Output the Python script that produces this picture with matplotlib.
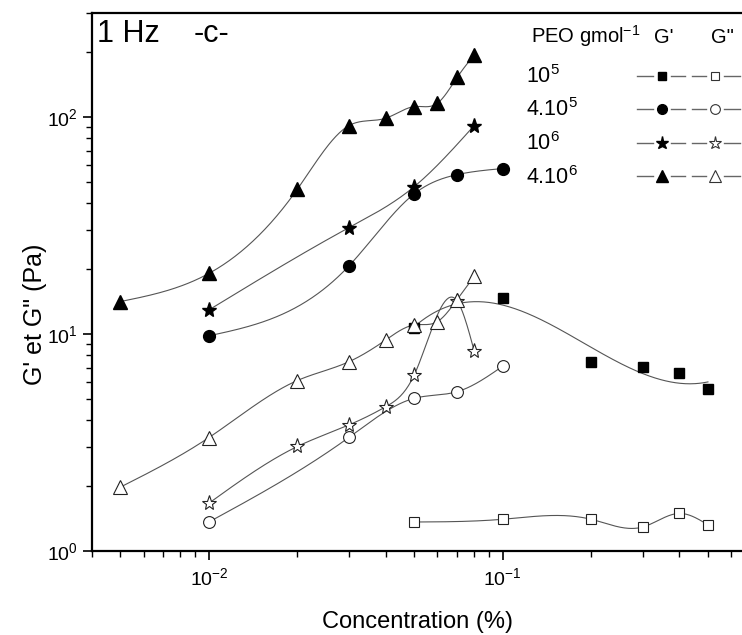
import numpy as np
import matplotlib.pyplot as plt

plt.rcParams['font.family'] = 'Liberation Sans'
plt.rcParams['mathtext.fontset'] = 'custom'
plt.rcParams['mathtext.rm'] = 'Liberation Sans'
plt.rcParams['mathtext.it'] = 'Liberation Sans:italic'
plt.rcParams['mathtext.bf'] = 'Liberation Sans:bold'

# PEO 10^5
conc_1e5 = [0.05, 0.1, 0.2, 0.3, 0.4, 0.5]
g1_1e5 = [10.6, 14.7, 7.4, 7.05, 6.6, 5.55]
g2_1e5 = [1.36, 1.40, 1.40, 1.29, 1.49, 1.32]

# PEO 4.10^5
conc_4e5 = [0.01, 0.03, 0.05, 0.07, 0.1]
g1_4e5 = [9.8, 20.6, 44.2, 54.2, 57.8]
g2_4e5 = [1.36, 3.34, 5.05, 5.42, 7.1]

# PEO 10^6
conc_1e6_g1 = [0.01, 0.03, 0.05, 0.08]
g1_1e6 = [12.9, 30.9, 47.7, 91.2]
conc_1e6_g2 = [0.01, 0.02, 0.03, 0.04, 0.05, 0.07, 0.08]
g2_1e6 = [1.66, 3.03, 3.81, 4.62, 6.47, 14.2, 8.36]

# PEO 4.10^6
conc_4e6 = [0.005, 0.01, 0.02, 0.03, 0.04, 0.05, 0.06, 0.07, 0.08]
g1_4e6 = [14.1, 19.0, 46.4, 91.2, 98.6, 111.5, 115.6, 152, 193]
g2_4e6 = [1.97, 3.33, 6.10, 7.45, 9.38, 11.0, 11.4, 14.4, 18.4]

legend_labels = ['10$^5$', '4.10$^5$', '10$^6$', '4.10$^6$']
legend_markers = [('s', 5.5), ('o', 7), ('*', 9.5), ('^', 8)]


def spline_curve(x, y, num=300):
    # natural cubic spline in log-log space
    lx = np.log10(x)
    ly = np.log10(y)
    n = len(lx)
    h = np.diff(lx)
    A = np.zeros((n, n))
    r = np.zeros(n)
    A[0, 0] = 1
    A[-1, -1] = 1
    for i in range(1, n - 1):
        A[i, i - 1] = h[i - 1]
        A[i, i] = 2 * (h[i - 1] + h[i])
        A[i, i + 1] = h[i]
        r[i] = 6 * ((ly[i + 1] - ly[i]) / h[i] - (ly[i] - ly[i - 1]) / h[i - 1])
    M = np.linalg.solve(A, r)
    xs = np.linspace(lx[0], lx[-1], num)
    ys = np.zeros_like(xs)
    for k, xv in enumerate(xs):
        i = min(np.searchsorted(lx, xv, side='right') - 1, n - 2)
        t1 = lx[i + 1] - xv
        t0 = xv - lx[i]
        ys[k] = (M[i] * t1 ** 3 + M[i + 1] * t0 ** 3) / (6 * h[i]) \
            + (ly[i] / h[i] - M[i] * h[i] / 6) * t1 \
            + (ly[i + 1] / h[i] - M[i + 1] * h[i] / 6) * t0
    return 10 ** xs, 10 ** ys


def poly_curve(x, y, deg, num=300):
    lx = np.log10(x)
    p = np.polyfit(lx, np.log10(y), deg)
    xs = np.linspace(lx[0], lx[-1], num)
    return 10 ** xs, 10 ** np.polyval(p, xs)


fig = plt.figure(figsize=(7.42, 6.35), dpi=100)
ax = fig.add_axes([92 / 742, 1 - 551 / 635, 650 / 742, 538 / 635])

line_kw = dict(color='#555555', lw=0.8, zorder=1)
curves = [
    poly_curve(conc_1e5, g1_1e5, 3),
    spline_curve(conc_1e5, g2_1e5),
    spline_curve(conc_4e5, g1_4e5),
    spline_curve(conc_4e5, g2_4e5),
    spline_curve(conc_1e6_g1, g1_1e6),
    spline_curve(conc_1e6_g2, g2_1e6),
    spline_curve(conc_4e6, g1_4e6),
    spline_curve(conc_4e6, g2_4e6),
]
for cx, cy in curves:
    ax.plot(cx, cy, **line_kw)

series = [
    (conc_1e5, g1_1e5, 's', 6.5, True),
    (conc_1e5, g2_1e5, 's', 7.5, False),
    (conc_4e5, g1_4e5, 'o', 8.5, True),
    (conc_4e5, g2_4e5, 'o', 8.5, False),
    (conc_1e6_g1, g1_1e6, '*', 11, True),
    (conc_1e6_g2, g2_1e6, '*', 11, False),
    (conc_4e6, g1_4e6, '^', 9.5, True),
    (conc_4e6, g2_4e6, '^', 10, False),
]
for x, y, m, ms, filled in series:
    if filled:
        ax.plot(x, y, ls='none', marker=m, ms=ms, color='black', zorder=3)
    else:
        ax.plot(x, y, ls='none', marker=m, ms=ms, mfc='white', mec='#222222',
                mew=0.8, zorder=3)

ax.set_xscale('log')
ax.set_yscale('log')
ax.set_xlim(0.004, 0.653)
ax.set_ylim(1, 301)

ax.spines['right'].set_visible(False)
for side in ['left', 'bottom', 'top']:
    ax.spines[side].set_linewidth(1.6)

ax.tick_params(which='major', direction='out', length=6.5, width=1.2,
               labelsize=14, pad=4)
ax.tick_params(which='minor', direction='out', length=4.5, width=1.0)
ax.tick_params(axis='x', which='major', pad=5)

ax.set_xlabel('Concentration (%)', fontsize=17, labelpad=16)
ax.set_ylabel('G\' et G" (Pa)', fontsize=18)
ax.yaxis.set_label_coords(-0.069, 0.44)

fig.text(97 / 742, 1 - 34 / 635, '1 Hz', fontsize=22, va='center', ha='left')
fig.text(194 / 742, 1 - 34 / 635, '-c-', fontsize=22, va='center', ha='left')

# legend table
fig.text(531 / 742, 1 - 43 / 635, 'PEO gmol$^{-1}$', fontsize=14.5,
         va='baseline', ha='left')
fig.text(654 / 742, 1 - 43 / 635, "G'", fontsize=14.5, va='baseline', ha='left')
fig.text(711 / 742, 1 - 43 / 635, 'G"', fontsize=14.5, va='baseline', ha='left')

row_y = [75.5, 109, 142.5, 176]
for i, lab in enumerate(legend_labels):
    yb = 1 - (row_y[i] + 7.5) / 635
    yc = 1 - row_y[i] / 635
    fig.text(526 / 742, yb, lab, fontsize=15.5, va='baseline', ha='left')
    m, ms = legend_markers[i]
    for x0, x1, xm, filled in [(637, 685, 661.5, True), (692, 740, 715, False)]:
        for a, b in [(x0, xm - 9), (xm + 9, x1)]:
            ax.plot([a / 742, b / 742], [yc, yc], color='#666666', lw=1.0,
                    transform=fig.transFigure, clip_on=False)
        if filled:
            ax.plot([xm / 742], [yc], marker=m, ms=ms, color='black',
                    transform=fig.transFigure, clip_on=False)
        else:
            ax.plot([xm / 742], [yc], marker=m, ms=ms, mfc='white', mec='#333333',
                    mew=0.8, transform=fig.transFigure, clip_on=False)

plt.savefig('out.png', dpi=100)
